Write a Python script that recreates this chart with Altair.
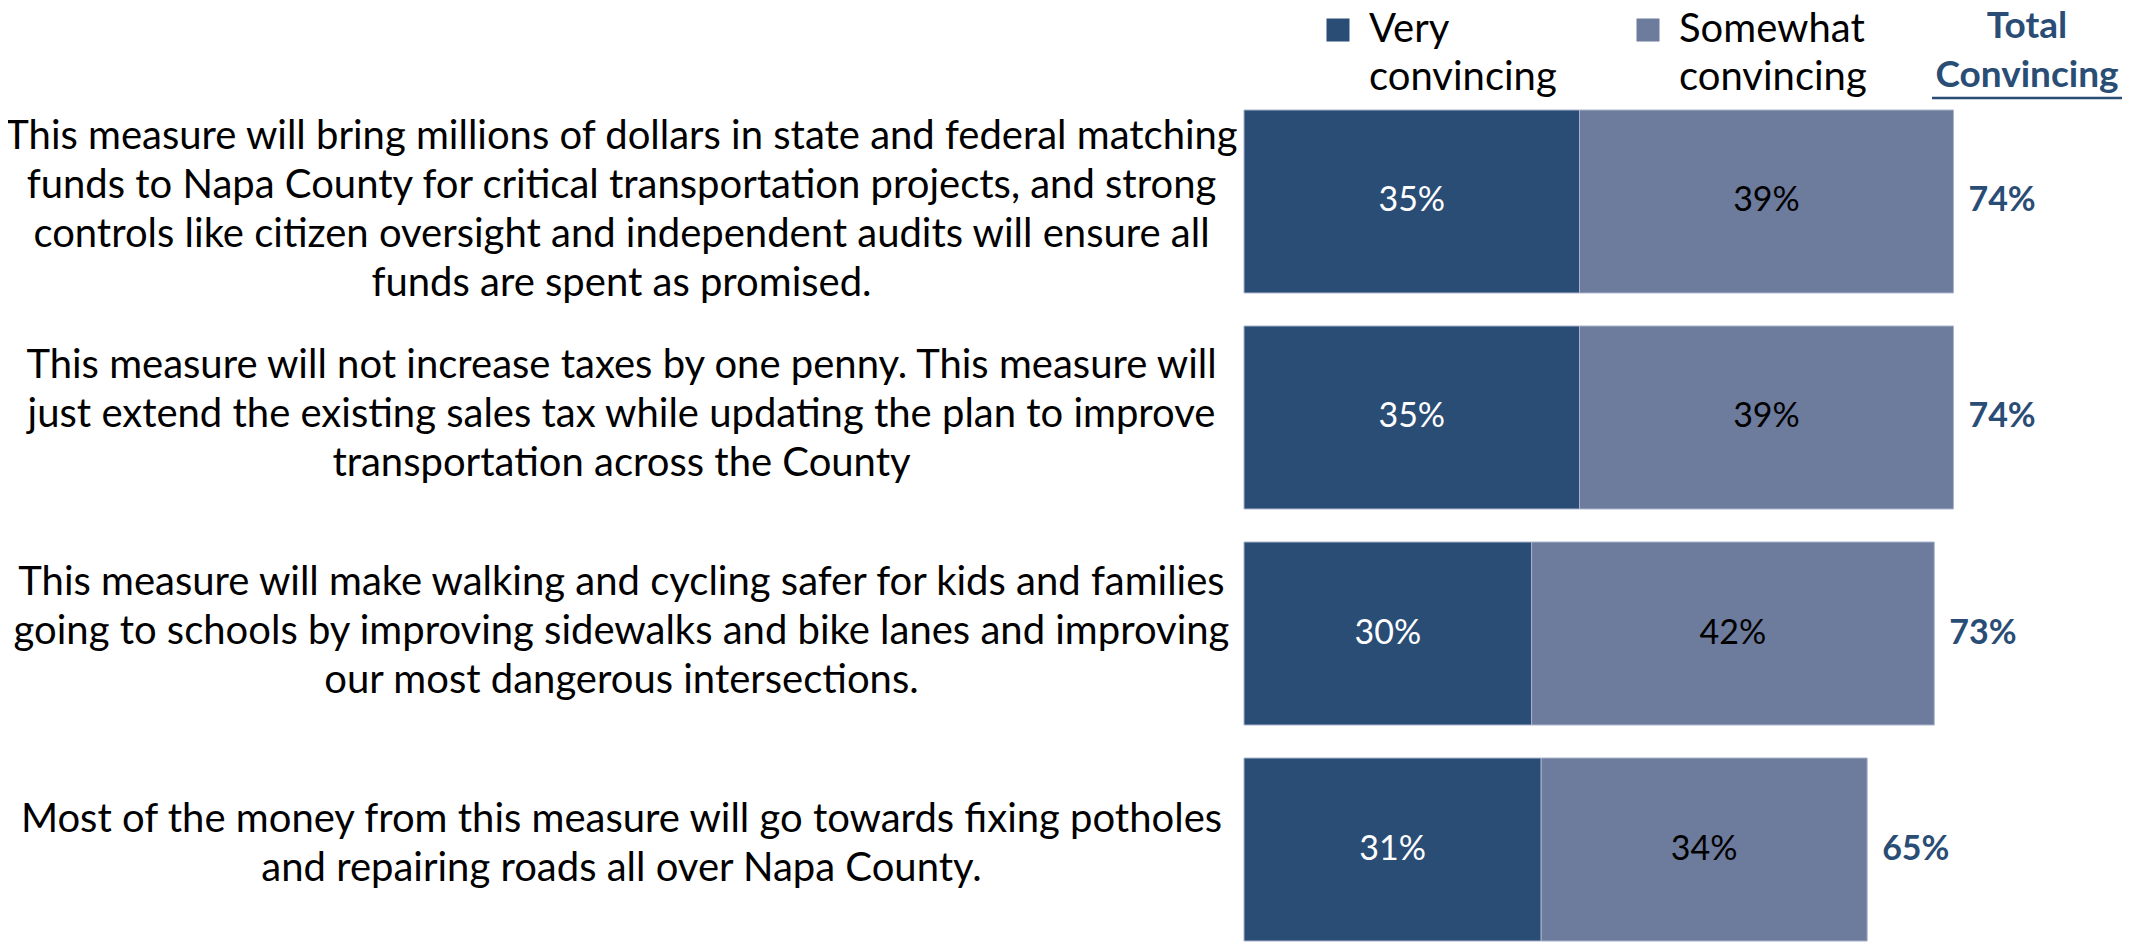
import altair as alt
import pandas as pd

statements = [
    "This measure will bring millions of dollars in state and federal matching|funds to Napa County for critical transportation projects, and strong|controls like citizen oversight and independent audits will ensure all|funds are spent as promised.",
    "This measure will not increase taxes by one penny. This measure will|just extend the existing sales tax while updating the plan to improve|transportation across the County",
    "This measure will make walking and cycling safer for kids and families|going to schools by improving sidewalks and bike lanes and improving|our most dangerous intersections.",
    "Most of the money from this measure will go towards fixing potholes|and repairing roads all over Napa County.",
]
very = [35, 35, 30, 31]
somewhat = [39, 39, 42, 34]
total = [74, 74, 73, 65]
series = ["Very convincing", "Somewhat convincing"]
series_colors = ["#2A4D76", "#6D7B9D"]
header = ["Total", "Convincing"]

rows = []
for i, s in enumerate(statements):
    rows.append({"statement": s, "series": series[0], "value": very[i], "order": 0})
    rows.append({"statement": s, "series": series[1], "value": somewhat[i], "order": 1})
df = pd.DataFrame(rows)
tot = pd.DataFrame({
    "statement": statements,
    "end": [v + s for v, s in zip(very, somewhat)],
    "total": total,
})

FONT = "Lato"
DARK = "#2A4D76"
FS = 40
NUM_FS = 34

nlines = "length(split(datum.value, '|'))"
xscale = alt.Scale(domain=[0, 92])
yscale = alt.Scale(paddingInner=0.153, paddingOuter=0)
yaxis = alt.Axis(
    title=None, labelExpr="split(datum.value, '|')", labelAlign="center",
    labelPadding=623, ticks=False, domain=False, labelFont=FONT,
    labelFontSize=FS, labelColor="black", labelLimit=3000, labelLineHeight=49,
    labelOverlap=False, labelBound=False, grid=False,
    labelOffset={
        "condition": [
            {"test": nlines + " == 4", "value": -64},
            {"test": nlines + " == 3", "value": -51},
        ],
        "value": -30,
    },
)
Y = alt.Y("statement:N", sort=statements, scale=yscale, axis=yaxis)

base = alt.Chart(df)
bars = base.mark_bar(stroke="#A9B2CD", strokeWidth=1).encode(
    x=alt.X("value:Q", stack="zero", scale=xscale, axis=None),
    y=Y,
    color=alt.Color(
        "series:N",
        scale=alt.Scale(domain=series, range=series_colors),
        legend=alt.Legend(
            title=None, orient="none", legendX=74, legendY=-100,
            direction="horizontal", symbolType="square",
            symbolSize=529, symbolStrokeWidth=0, symbolOpacity=1,
            labelFont=FONT, labelFontSize=FS, labelColor="black",
            labelExpr="split(datum.label, ' ')",
            labelOffset=11, columnPadding=71, labelLimit=0, padding=0,
        ),
    ),
    order=alt.Order("order:Q"),
)

inner = base.transform_stack(
    stack="value", groupby=["statement"], as_=["x0", "x1"],
    sort=[alt.SortField("order", order="ascending")],
).transform_calculate(
    mid="(datum.x0 + datum.x1) / 2", lbl="datum.value + '%'"
).mark_text(font=FONT, fontSize=NUM_FS).encode(
    x=alt.X("mid:Q", scale=xscale, axis=None),
    y=Y,
    text="lbl:N",
    color=alt.condition(alt.datum.series == series[0], alt.value("white"), alt.value("black")),
)

tots = alt.Chart(tot).transform_calculate(lbl="datum.total + '%'").mark_text(
    align="left", dx=15, font=FONT, fontSize=NUM_FS, fontWeight="bold", color=DARK
).encode(
    x=alt.X("end:Q", scale=xscale, axis=None),
    y=Y,
    text="lbl:N",
)

head = alt.Chart(pd.DataFrame({"h": [0]})).mark_text(
    text=header, align="center", baseline="alphabetic", font=FONT, fontSize=37,
    fontWeight="bold", color=DARK, lineHeight=49,
).encode(x=alt.value(783), y=alt.value(-72))

underline = alt.Chart(pd.DataFrame({"h": [0]})).mark_rule(color=DARK, strokeWidth=2.5).encode(
    x=alt.value(688), x2=alt.value(878), y=alt.value(-12)
)

chart = alt.layer(bars, inner, tots, head, underline).properties(
    width=882, height=831,
    padding={"left": 1236, "top": 102, "right": 4, "bottom": 4},
    autosize=alt.AutoSizeParams(type="none"),
).configure(
    style={"guide-label": {"lineHeight": 48}}
).configure_view(stroke=None)

chart.save("out.html", embed_options={"renderer": "svg", "actions": False})
